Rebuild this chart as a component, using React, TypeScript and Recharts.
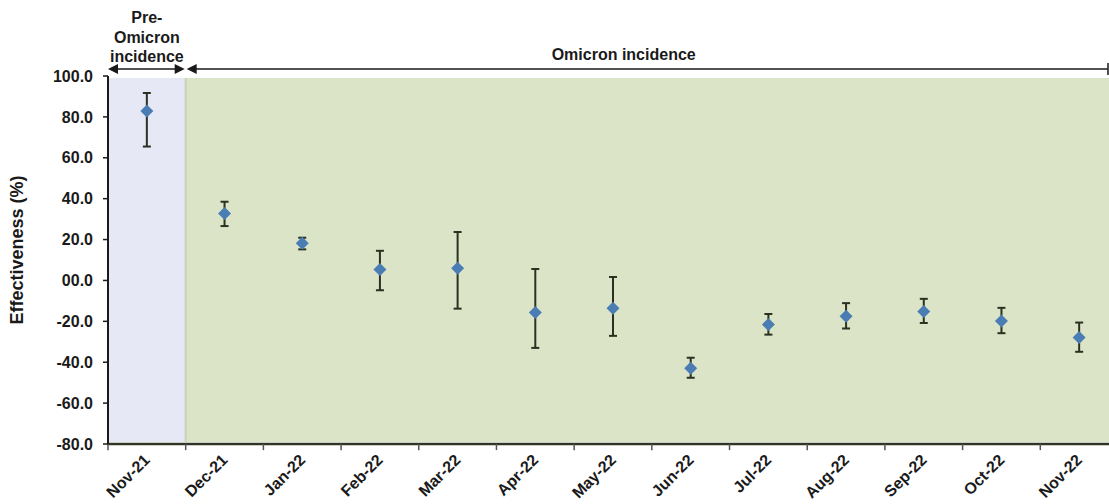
import { ComposedChart, Scatter, ErrorBar, XAxis, YAxis, ReferenceArea, ReferenceLine } from 'recharts';

const months = ['Nov-21', 'Dec-21', 'Jan-22', 'Feb-22', 'Mar-22', 'Apr-22', 'May-22', 'Jun-22', 'Jul-22', 'Aug-22', 'Sep-22', 'Oct-22', 'Nov-22'];
const effectiveness = [82.9, 32.8, 18.2, 5.3, 6.0, -15.7, -13.6, -42.9, -21.6, -17.5, -15.2, -19.8, -27.9];
const lowerCI = [65.5, 26.6, 15.2, -4.8, -13.8, -33.0, -27.1, -47.6, -26.5, -23.5, -20.8, -25.8, -34.9];
const upperCI = [91.7, 38.5, 20.9, 14.5, 23.7, 5.6, 1.7, -37.8, -16.4, -11.1, -9.0, -13.4, -20.6];
const yTicks = [-80, -60, -40, -20, 0, 20, 40, 60, 80, 100];

// periods: index range of months
const preOmicron = [0, 1];
const omicron = [1, 13];

const FONT = '"Liberation Sans", Arial, sans-serif';
const INK = '#1a1a1a';

const rows = months.map((m, i) => ({
  x: i + 0.5,
  y: effectiveness[i],
  err: [effectiveness[i] - lowerCI[i], upperCI[i] - effectiveness[i]],
}));
const boundaryTicks = months.map((_, i) => i);
const centerTicks = months.map((_, i) => i + 0.5);

const Diamond = (props: any) => {
  const { cx, cy } = props;
  if (cx == null || cy == null) return null;
  const r = 6.5;
  return <polygon points={`${cx},${cy - r} ${cx + r},${cy} ${cx},${cy + r} ${cx - r},${cy}`} fill="#4a7db4" />;
};

const MonthTick = (props: any) => {
  const { x, y, payload } = props;
  const label = months[Math.floor(payload.value)];
  return (
    <text
      x={x + 4}
      y={y + 9}
      transform={`rotate(-45, ${x + 4}, ${y + 9})`}
      textAnchor="end"
      fontFamily={FONT}
      fontSize={16}
      fontWeight="bold"
      fill={INK}
    >
      {label}
    </text>
  );
};

const headLeft = (x: number, y: number) => `${x},${y} ${x + 10},${y - 5} ${x + 10},${y + 5}`;
const headRight = (x: number, y: number) => `${x},${y} ${x - 10},${y - 5} ${x - 10},${y + 5}`;

const PreLabel = (props: any) => {
  const { x, y, width } = props.viewBox;
  const ay = y - 9;
  return (
    <g>
      <line x1={x + 5} y1={ay} x2={x + width - 5} y2={ay} stroke={INK} strokeWidth={1.5} />
      <polygon points={headLeft(x, ay)} fill={INK} />
      <polygon points={headRight(x + width - 1, ay)} fill={INK} />
      <text x={x + width / 2} textAnchor="middle" fontFamily={FONT} fontSize={16} fontWeight="bold" fill={INK}>
        <tspan x={x + width / 2} y={y - 55}>Pre-</tspan>
        <tspan x={x + width / 2} y={y - 35}>Omicron</tspan>
        <tspan x={x + width / 2} y={y - 16}>incidence</tspan>
      </text>
    </g>
  );
};

const OmicronLabel = (props: any) => {
  const { x, y, width } = props.viewBox;
  const ay = y - 9;
  const end = x + width - 10;
  return (
    <g>
      <line x1={x + 5} y1={ay} x2={end} y2={ay} stroke={INK} strokeWidth={1.5} />
      <polygon points={headLeft(x + 1, ay)} fill={INK} />
      <line x1={end} y1={ay - 6} x2={end} y2={ay + 6} stroke={INK} strokeWidth={1.5} />
      <text x={x + 438} y={y - 18} textAnchor="middle" fontFamily={FONT} fontSize={16} fontWeight="bold" fill={INK}>
        Omicron incidence
      </text>
    </g>
  );
};

const YLabel = (props: any) => {
  const { x, y, height } = props.viewBox;
  const cx = x + 23;
  const cy = y + height / 2 - 10;
  return (
    <text
      x={cx}
      y={cy}
      transform={`rotate(-90, ${cx}, ${cy})`}
      textAnchor="middle"
      fontFamily={FONT}
      fontSize={18}
      fontWeight="bold"
      fill={INK}
    >
      Effectiveness (%)
    </text>
  );
};

export default function App() {
  return (
    <div style={{ position: 'fixed', left: 0, top: 0, width: 1109, height: 504, overflow: 'hidden', background: '#fff' }}>
      <ComposedChart width={1120} height={504} data={rows} margin={{ top: 76, right: 2, bottom: 0, left: 0 }}>
        <XAxis
          xAxisId="x"
          type="number"
          dataKey="x"
          domain={[0, months.length]}
          ticks={centerTicks}
          interval={0}
          tick={<MonthTick />}
          tickLine={false}
          axisLine={false}
          height={60}
          allowDataOverflow
        />
        <YAxis
          type="number"
          dataKey="y"
          domain={[-80, 100]}
          ticks={yTicks}
          interval={0}
          width={108}
          tickSize={5}
          tickMargin={10}
          axisLine={{ stroke: INK, strokeWidth: 2 }}
          tickLine={{ stroke: INK, strokeWidth: 1.5 }}
          tick={{ fill: INK, fontSize: 16, fontWeight: 'bold', fontFamily: FONT }}
          tickFormatter={(v: number) => (v === 0 ? '00.0' : v.toFixed(1))}
          label={(p: any) => <YLabel {...p} />}
        />
        <ReferenceArea
          xAxisId="x"
          x1={preOmicron[0]}
          x2={preOmicron[1]}
          y1={-79}
          y2={99}
          fill="#e6e8f5"
          fillOpacity={1}
          stroke="none"
          ifOverflow="visible"
          label={(p: any) => <PreLabel {...p} />}
        />
        <ReferenceArea
          xAxisId="x"
          x1={omicron[0]}
          x2={omicron[1]}
          y1={-79}
          y2={99}
          fill="#dce4c8"
          fillOpacity={1}
          stroke="none"
          ifOverflow="visible"
          label={(p: any) => <OmicronLabel {...p} />}
        />
        <ReferenceLine xAxisId="x" segment={[{ x: omicron[0], y: -79 }, { x: omicron[0], y: 99 }]} stroke="#c8d2b6" strokeWidth={2} ifOverflow="visible" />
        {/* category axis line and boundary tick marks */}
        <ReferenceLine xAxisId="x" y={-80} stroke="#2f3424" strokeWidth={2.5} ifOverflow="visible" />
        {boundaryTicks.map((b) => (
          <ReferenceLine
            key={b}
            xAxisId="x"
            segment={[{ x: b, y: -80 }, { x: b, y: -83 }]}
            stroke="#555"
            strokeWidth={1.5}
            ifOverflow="visible"
          />
        ))}
        <Scatter xAxisId="x" data={rows} dataKey="y" shape={Diamond} isAnimationActive={false}>
          <ErrorBar dataKey="err" direction="y" width={4} stroke="#2b3020" strokeWidth={2} />
        </Scatter>
      </ComposedChart>
    </div>
  );
}
